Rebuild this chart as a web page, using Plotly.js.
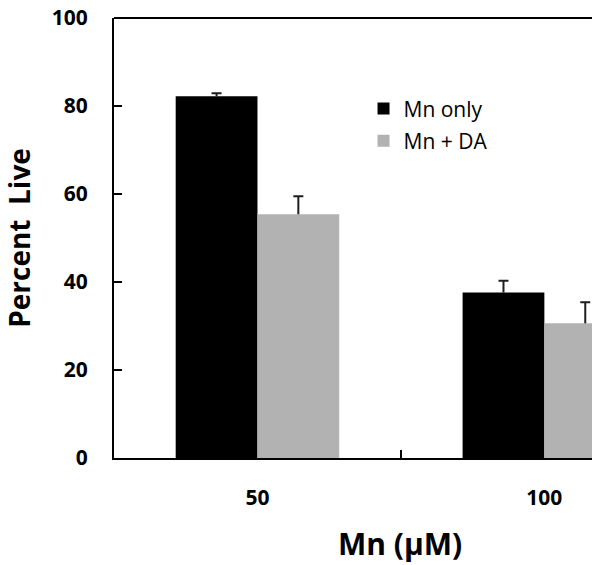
<!DOCTYPE html>
<html>
<head>
<meta charset="utf-8">
<script src="https://cdn.plot.ly/plotly-3.0.1.min.js"></script>
<style>html,body{margin:0;padding:0;background:#fff;}#chart{width:601px;height:565px;}</style>
</head>
<body>
<div id="chart"></div>
<script>
const categories = ["50", "100"];
const seriesNames = ["Mn only", "Mn + DA"];
const mnOnly = [82.2, 37.6];
const mnOnlyErr = [0.7, 2.7];
const mnDA = [55.4, 30.6];
const mnDAErr = [4.1, 4.8];
const yTicks = [0, 20, 40, 60, 80, 100];

const font = "'Open Sans', 'DejaVu Sans', sans-serif";
const errColor = "#1e1e1e";

function series(name, vals, errs, color, group) {
  const bar = {
    type: "bar", name: name, x: categories, y: vals,
    offsetgroup: group, legendgroup: group,
    marker: {color: color, line: {width: 0}},
    error_y: {type: "data", symmetric: false, array: errs, arrayminus: vals.map(() => 0),
              color: errColor, thickness: 2, width: 0}
  };
  // invisible bar reaching the top of the error bar, used only to draw the cap
  const cap = {
    type: "bar", x: categories, y: vals.map((v, i) => v + errs[i]),
    offsetgroup: group, showlegend: false, hoverinfo: "skip",
    marker: {color: "rgba(0,0,0,0)", line: {width: 0}},
    error_y: {type: "data", array: vals.map(() => 0), color: errColor, thickness: 2, width: 5}
  };
  return [bar, cap];
}

const traces = [
  ...series(seriesNames[0], mnOnly, mnOnlyErr, "#000000", "a"),
  ...series(seriesNames[1], mnDA, mnDAErr, "#b2b2b2", "b")
];

const layout = {
  width: 601, height: 565,
  margin: {l: 114, r: 9, t: 18, b: 107, pad: 0},
  paper_bgcolor: "#ffffff", plot_bgcolor: "#ffffff",
  barmode: "group", bargap: 0.43, bargroupgap: 0,
  showlegend: true,
  legend: {x: 0.522, y: 0.84, xanchor: "left", yanchor: "top",
           font: {family: font, size: 21, color: "#000"},
           bgcolor: "rgba(0,0,0,0)", traceorder: "grouped", tracegroupgap: 2, itemwidth: 30},
  xaxis: {
    type: "category", range: [-0.5, 1.166],
    showline: true, linecolor: "#000", linewidth: 2,
    showgrid: false, zeroline: false,
    ticks: "inside", ticklen: 8, tickwidth: 1.5, tickcolor: "#000",
    tickson: "boundaries",
    ticklabelstandoff: 20,
    tickfont: {family: font, size: 21, color: "#000", weight: "bold"}
  },
  yaxis: {
    range: [0, 100], tickvals: yTicks, ticktext: yTicks.map(String),
    showline: true, linecolor: "#000", linewidth: 2,
    showgrid: false, zeroline: false,
    ticks: "inside", ticklen: 8, tickwidth: 1.5, tickcolor: "#000",
    ticklabelstandoff: 20,
    tickfont: {family: font, size: 21, color: "#000", weight: "bold"},
    title: {text: "<b>Percent\u00a0\u00a0Live</b>", font: {family: font, size: 28, color: "#000"}, standoff: 18}
  },
  annotations: [
    {text: "<b>Mn (μM)</b>", xref: "paper", yref: "paper", x: 0.598, y: -0.195,
     xanchor: "center", yanchor: "middle", showarrow: false,
     font: {family: font, size: 30, color: "#000"}}
  ],
  shapes: [
    {type: "line", xref: "paper", yref: "paper", x0: 0, x1: 1, y0: 1, y1: 1,
     line: {color: "#000", width: 2}}
  ]
};

Plotly.newPlot("chart", traces, layout, {displayModeBar: false, staticPlot: true});
</script>
</body>
</html>
